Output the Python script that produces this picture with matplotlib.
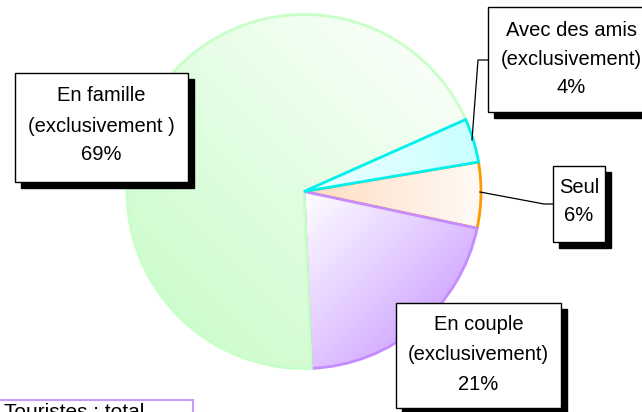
import matplotlib
matplotlib.use("Agg")
import matplotlib.pyplot as plt
import numpy as np
from matplotlib.patches import Rectangle
from matplotlib.colors import to_rgb

plt.rcParams['font.family'] = ['Liberation Sans', 'DejaVu Sans']

# ---- data ----
categories = ["Avec des amis\n(exclusivement)", "Seul", "En couple\n(exclusivement)", "En famille\n(exclusivement )"]
values = [4, 6, 21, 69]
pct_labels = ["4%", "6%", "21%", "69%"]
edge_colors = ["#00f0f0", "#ff9900", "#c58cff", "#c8ffc8"]
grad_start = ["#f0ffff", "#ffdcc0", "#ffffff", "#cefcce"]
grad_end = ["#c8ffff", "#fffaf6", "#d2acff", "#f8fff8"]
grad_dir = [(1, 0), (1, 0), (1, -1), (1, 1)]
footer_text = "Touristes : total"

W, H = 642, 412
fig = plt.figure(figsize=(W / 100, H / 100), dpi=100)
ax = fig.add_axes([0, 0, 1, 1])

def Y(y):
    return H - y

cx, cy, R = 304, Y(191.5), 177
wedges, _ = ax.pie(values, startangle=24, counterclock=False, center=(cx, cy),
                   radius=R, wedgeprops=dict(linewidth=2))
ax.set_xlim(0, W)
ax.set_ylim(0, H)
ax.set_aspect('auto')
ax.axis('off')

zorders = [5, 2, 3, 4]
xs = np.linspace(cx - R, cx + R, 300)
ys = np.linspace(cy - R, cy + R, 300)
XX, YY = np.meshgrid(xs, ys)
for i, w in enumerate(wedges):
    w.set_facecolor('none')
    w.set_edgecolor(edge_colors[i])
    w.set_zorder(zorders[i] + 0.5)
    d = np.array(grad_dir[i], float)
    d /= np.linalg.norm(d)
    verts = w.get_path().vertices
    proj = (verts[:, 0] - cx) * d[0] + (verts[:, 1] - cy) * d[1]
    pmin, pmax = proj.min(), proj.max()
    p = (XX - cx) * d[0] + (YY - cy) * d[1]
    t = np.clip((p - pmin) / (pmax - pmin), 0, 1)[..., None]
    c0 = np.array(to_rgb(grad_start[i]))
    c1 = np.array(to_rgb(grad_end[i]))
    img = c0 * (1 - t) + c1 * t
    im = ax.imshow(img, extent=(cx - R, cx + R, cy - R, cy + R), origin='lower',
                   zorder=zorders[i], interpolation='bilinear', aspect='auto')
    im.set_clip_path(w)

def box(x0, y0, x1, y1, lines, ys_txt, shadow=6):
    ax.add_patch(Rectangle((x0 + shadow, Y(y1 + shadow)), x1 - x0, y1 - y0,
                           facecolor='black', edgecolor='black', zorder=10))
    ax.add_patch(Rectangle((x0, Y(y1)), x1 - x0, y1 - y0,
                           facecolor='white', edgecolor='black', lw=1, zorder=11))
    xc = (x0 + x1) / 2
    for s, yy in zip(lines, ys_txt):
        ax.text(xc, Y(yy), s, ha='center', va='center', fontsize=14.5, zorder=12)

# leader lines
ax.plot([472, 478, 488], [Y(140), Y(60), Y(60)], color='black', lw=0.9, zorder=9)
ax.plot([480, 544, 553], [Y(192), Y(204), Y(204)], color='black', lw=0.9, zorder=9)

fam = categories[3].split("\n")
box(15, 73, 188, 182, fam + [pct_labels[3]], [95, 126, 154])
ami = categories[0].split("\n")
box(488, 7, 655, 112, ami + [pct_labels[0]], [30, 59, 87])
box(553, 166, 605, 242, [categories[1], pct_labels[1]], [187, 215])
cou = categories[2].split("\n")
box(396, 303, 561, 408, cou + [pct_labels[2]], [325, 355, 384])

# footer box (cut off at the bottom edge, as in the source)
ax.add_patch(Rectangle((-2, Y(425)), 195, 25, facecolor='white',
                       edgecolor='#cc99ff', lw=1.5, zorder=11))
ax.text(4, Y(403), footer_text, ha='left', va='top', fontsize=15, zorder=12)

fig.savefig("out.png", dpi=100)
